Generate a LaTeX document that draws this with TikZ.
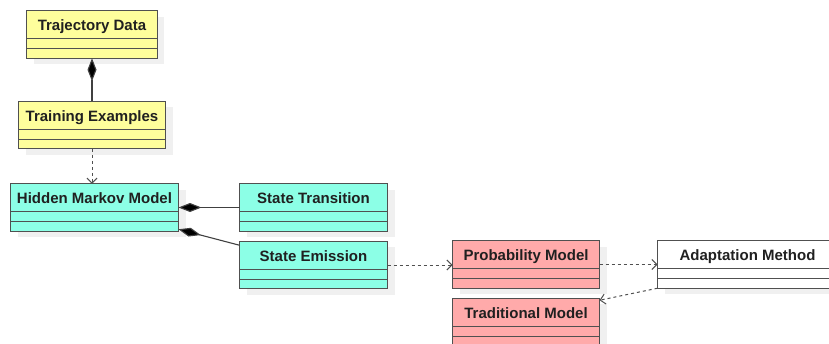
\documentclass[tikz,border=0pt]{standalone}
\usepackage{fontspec}
\setmainfont{Liberation Sans}
\usetikzlibrary{arrows.meta,positioning,shadows}
\definecolor{clsyellow}{HTML}{FEFE9C}
\definecolor{clscyan}{HTML}{8CFFE6}
\definecolor{clspink}{HTML}{FFAAAA}
\definecolor{clsline}{HTML}{505050}
\definecolor{clstext}{HTML}{202020}
\tikzset{umlclass/.style={draw=clsline,line width=1.1pt,outer sep=0pt,fill=white,text=clstext,font=\fontsize{15}{18}\selectfont\bfseries,inner xsep=0pt,inner ysep=0pt,text height=20pt,text depth=27.5pt,minimum height=47.5pt,general shadow={fill=black!6,shadow xshift=7pt,shadow yshift=-6pt},path picture={\draw[clsline,line width=1.1pt]([yshift=-28pt]path picture bounding box.north west)--([yshift=-28pt]path picture bounding box.north east);\draw[clsline,line width=1.1pt]([yshift=-38pt]path picture bounding box.north west)--([yshift=-38pt]path picture bounding box.north east);}},comp/.style={-{Diamond[length=23pt,width=9pt,fill=black]},line width=1.1pt,draw=black!75},dep/.style={-{Straight Barb[length=5pt,width=10pt]},line width=1pt,draw=clsline,dash pattern=on 3pt off 3pt}}

\begin{document}
\begin{tikzpicture}
\useasboundingbox (0,0) rectangle (829pt,-343pt);
\clip (0,0) rectangle (829pt,-343pt);
\node[umlclass,fill=clsyellow,minimum width=130.5pt] (traj) at (92pt,-34.5pt) {Trajectory Data};
\node[umlclass,fill=clsyellow,minimum width=147pt,below=43pt of traj] (train) {Training Examples};
\node[umlclass,fill=clscyan,minimum width=168pt,below=35pt of train,xshift=2.5pt] (hmm) {Hidden Markov Model};
\node[umlclass,fill=clscyan,minimum width=148pt,right=61pt of hmm] (st) {State Transition};
\node[umlclass,fill=clscyan,minimum width=148pt,below=10pt of st] (se) {State Emission};
\node[umlclass,fill=clspink,minimum width=147pt,right=65pt of se,yshift=0.5pt] (pm) {Probability Model};
\node[umlclass,fill=white,minimum width=180pt,right=58pt of pm] (am) {Adaptation Method};
\node[umlclass,fill=clspink,minimum width=147pt,below=10pt of pm] (tm) {Traditional Model};
\draw[comp](train.north)--(train.north|-traj.south);
\draw[dep](train.south)--(train.south|-hmm.north);
\draw[comp](st.west)--(hmm.east);
\draw[comp]([yshift=-4pt]se.north west)--([yshift=2pt]hmm.south east);
\draw[dep](se.east)--(se.east-|pm.west);
\draw[dep](pm.east)--(am.west);
\draw[dep](am.south west)--([yshift=-2pt]tm.north east);
\end{tikzpicture}
\end{document}
